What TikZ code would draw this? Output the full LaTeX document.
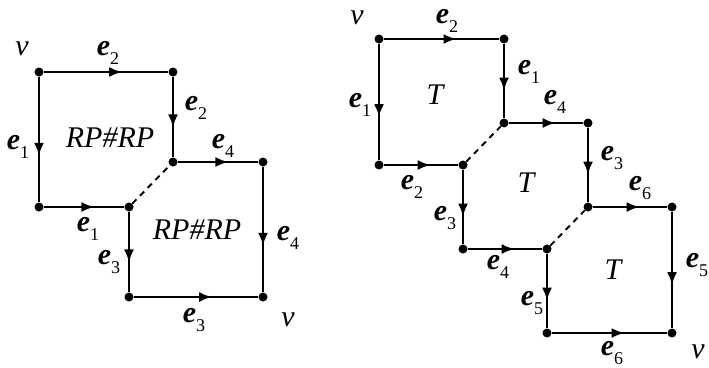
\documentclass[tikz,border=0pt]{standalone}
\usepackage{fontspec}
\setmainfont{Liberation Serif}
\usetikzlibrary{arrows.meta,decorations.markings}
\newcommand{\elab}[1]{\textbf{\textit{e}}\raisebox{-0.3em}{\fontsize{18}{18}\selectfont #1}}
\tikzset{
  dot/.style={circle, fill=black, inner sep=0pt, minimum size=9pt},
  edge/.style={line width=2.8pt, postaction={decorate},
    decoration={markings, mark=at position 0.63 with {\arrow{Latex[length=13pt,width=10pt]}}}},
  gap/.style={line width=1.9pt, dash pattern=on 6pt off 5pt},
  lbl/.style={font=\fontsize{30}{32}\selectfont, inner sep=0pt},
  face/.style={font=\fontsize{30}{32}\selectfont\itshape, inner sep=0pt}
}

\begin{document}
\begin{tikzpicture}[x=1pt, y=-1pt]
    \useasboundingbox (0,0) rectangle (709,367);

    % left polygon
    \foreach \n/\x/\y in {a/39/72, b/173/72, c/173/162, d/263/162, e/263/297, f/129/297, g/129/207, h/39/207} {
        \node[dot] (l\n) at (\x,\y) {};
    }
    \foreach \s/\t in {la/lb, la/lh, lb/lc, lc/ld, ld/le, lh/lg, lg/lf, lf/le} {
        \draw[edge] (\s) -- (\t);
    }
    \draw[gap] (lg) -- (lc);

    % right polygon
    \foreach \n/\x/\y in {a/379/39, b/504/39, c/504/123, d/588/123, e/588/207, f/672/207, g/672/333, h/547/333, i/547/249, j/463/249, k/463/165, l/379/165} {
        \node[dot] (r\n) at (\x,\y) {};
    }
    \foreach \s/\t in {ra/rb, ra/rl, rb/rc, rc/rd, rd/re, re/rf, rf/rg, rl/rk, rk/rj, rj/ri, ri/rh, rh/rg} {
        \draw[edge] (\s) -- (\t);
    }
    \draw[gap] (rk) -- (rc);
    \draw[gap] (ri) -- (re);

    % labels, left
    \node[face] (lv1) at (22,49) {v};
    \node[lbl] (le2a) at (108,53) {\elab{2}};
    \node[lbl] (le2b) at (196,108) {\elab{2}};
    \node[lbl] (le1a) at (18,147) {\elab{1}};
    \node[face] (lrp1) at (110,138) {RP\#RP};
    \node[lbl] (le4a) at (223,146) {\elab{4}};
    \node[lbl] (le1b) at (88,229) {\elab{1}};
    \node[face] (lrp2) at (197,230) {RP\#RP};
    \node[lbl] (le4b) at (288,238) {\elab{4}};
    \node[lbl] (le3a) at (109,262) {\elab{3}};
    \node[lbl] (le3b) at (194,320) {\elab{3}};
    \node[face] (lv2) at (288,320) {v};

    % labels, right
    \node[face] (rv1) at (357,18) {v};
    \node[lbl] (re2a) at (447,21) {\elab{2}};
    \node[lbl] (re1a) at (529,72) {\elab{1}};
    \node[face] (rt1) at (435,95) {T};
    \node[lbl] (re1b) at (360,105) {\elab{1}};
    \node[lbl] (re2b) at (412,187) {\elab{2}};
    \node[lbl] (re4a) at (555,102) {\elab{4}};
    \node[face] (rt2) at (526,183) {T};
    \node[lbl] (re3a) at (445,218) {\elab{3}};
    \node[lbl] (re3b) at (612,158) {\elab{3}};
    \node[lbl] (re6a) at (640,188) {\elab{6}};
    \node[lbl] (re4b) at (498,267) {\elab{4}};
    \node[face] (rt3) at (613,270) {T};
    \node[lbl] (re5a) at (697,265) {\elab{5}};
    \node[lbl] (re5b) at (532,303) {\elab{5}};
    \node[lbl] (re6b) at (612,353) {\elab{6}};
    \node[face] (rv2) at (698,352) {v};
\end{tikzpicture}
\end{document}
